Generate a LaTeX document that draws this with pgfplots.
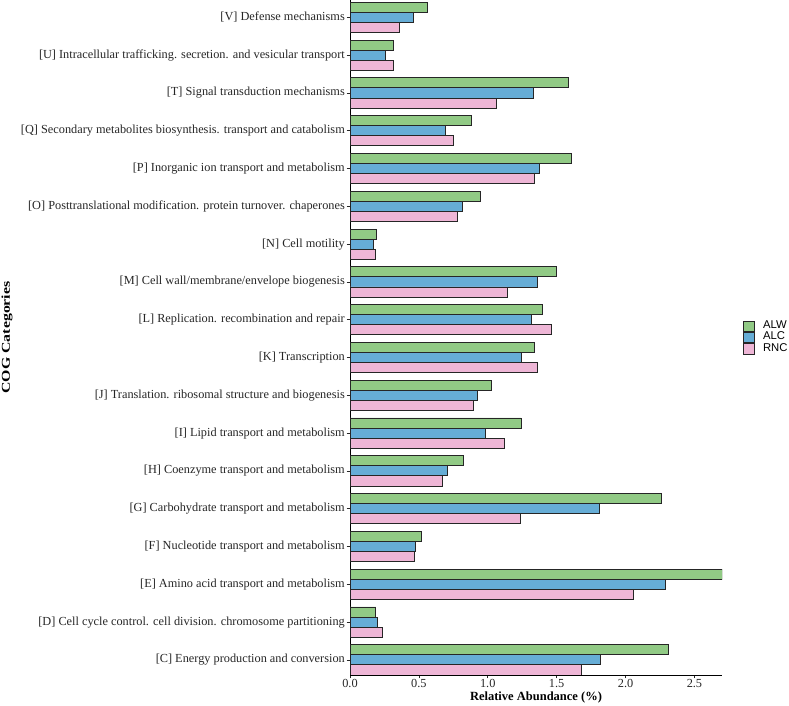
\documentclass[border=0pt]{standalone}
\usepackage{pgfplots}
\pgfplotsset{compat=1.18}
\usepackage{fontspec}
\setmainfont{Liberation Serif}
\newfontfamily\legfont{Liberation Sans}
\definecolor{cALW}{RGB}{145,202,133}
\definecolor{cALC}{RGB}{102,173,214}
\definecolor{cRNC}{RGB}{238,182,214}
\begin{document}
\begin{tikzpicture}[x=1pt,y=1pt]
\useasboundingbox (0,0) rectangle (789,706);
\begin{axis}[
  at={(350pt,31pt)}, anchor=south west,
  scale only axis, width=372pt, height=675pt,
  xbar, bar width=0.2667,
  xmin=0, xmax=2.70, ymin=0.6, ymax=18.46,
  axis x line*=bottom, axis y line*=left,
  axis line style={black, line width=0.7pt, -},
  tick align=outside, major tick length=3.5pt,
  tick style={black!85, line width=0.7pt},
  xtick={0,0.5,1,1.5,2,2.5}, xticklabels={0.0,0.5,1.0,1.5,2.0,2.5},
  ytick={1,...,18},
  yticklabels={
    {[C] Energy production and conversion},
    {[D] Cell cycle control. cell division. chromosome partitioning},
    {[E] Amino acid transport and metabolism},
    {[F] Nucleotide transport and metabolism},
    {[G] Carbohydrate transport and metabolism},
    {[H] Coenzyme transport and metabolism},
    {[I] Lipid transport and metabolism},
    {[J] Translation. ribosomal structure and biogenesis},
    {[K] Transcription},
    {[L] Replication. recombination and repair},
    {[M] Cell wall/membrane/envelope biogenesis},
    {[N] Cell motility},
    {[O] Posttranslational modification. protein turnover. chaperones},
    {[P] Inorganic ion transport and metabolism},
    {[Q] Secondary metabolites biosynthesis. transport and catabolism},
    {[T] Signal transduction mechanisms},
    {[U] Intracellular trafficking. secretion. and vesicular transport},
    {[V] Defense mechanisms}},
  /pgf/number format/assume math mode=true,
  ticklabel style={font=\fontsize{12.3}{14}\selectfont, text=black!85},
  yticklabel style={inner sep=1.5pt},
  xticklabel style={inner sep=1pt},
  xlabel={\textbf{Relative Abundance (\%)}},
  ylabel={\scalebox{1.32}[1]{\textbf{COG Categories}}},
  xlabel style={font=\fontsize{12.5}{14}\selectfont, at={(axis description cs:0.5,-0.034)}, anchor=center},
  ylabel style={font=\fontsize{12}{14}\selectfont, at={(axis description cs:-0.922,0.5)}, anchor=center},
  legend style={at={(1.056,0.5)}, anchor=west, draw=none, fill=none,
    font=\legfont\fontsize{11.3}{12}\selectfont, row sep=0pt, inner sep=0pt,
    nodes={inner sep=0pt, text height=7.7pt, text depth=3pt},
    cells={anchor=west},
    /tikz/every odd column/.append style={column sep=8.5pt}},
  legend image code/.code={\draw[#1, line width=0.9pt] (0pt,-5.2pt) rectangle (10.6pt,5.2pt);},
  every axis plot/.append style={draw=black!85, line width=0.9pt},
]
\addplot[fill=cALW, bar shift=0.2667] coordinates {
 (2.309,1) (0.188,2) (2.70,3) (0.517,4) (2.263,5) (0.824,6) (1.241,7) (1.029,8) (1.336,9)
 (1.394,10) (1.495,11) (0.191,12) (0.945,13) (1.604,14) (0.880,15) (1.585,16) (0.314,17) (0.560,18)};
\addplot[fill=cALC, bar shift=0] coordinates {
 (1.819,1) (0.200,2) (2.292,3) (0.478,4) (1.809,5) (0.705,6) (0.981,7) (0.925,8) (1.241,9)
 (1.314,10) (1.357,11) (0.169,12) (0.819,13) (1.372,14) (0.693,15) (1.330,16) (0.254,17) (0.459,18)};
\addplot[fill=cRNC, bar shift=-0.2667] coordinates {
 (1.681,1) (0.232,2) (2.060,3) (0.469,4) (1.239,5) (0.672,6) (1.118,7) (0.894,8) (1.357,9)
 (1.464,10) (1.143,11) (0.184,12) (0.780,13) (1.336,14) (0.751,15) (1.065,16) (0.316,17) (0.357,18)};
\legend{ALW,ALC,RNC}
\end{axis}
\end{tikzpicture}
\end{document}
